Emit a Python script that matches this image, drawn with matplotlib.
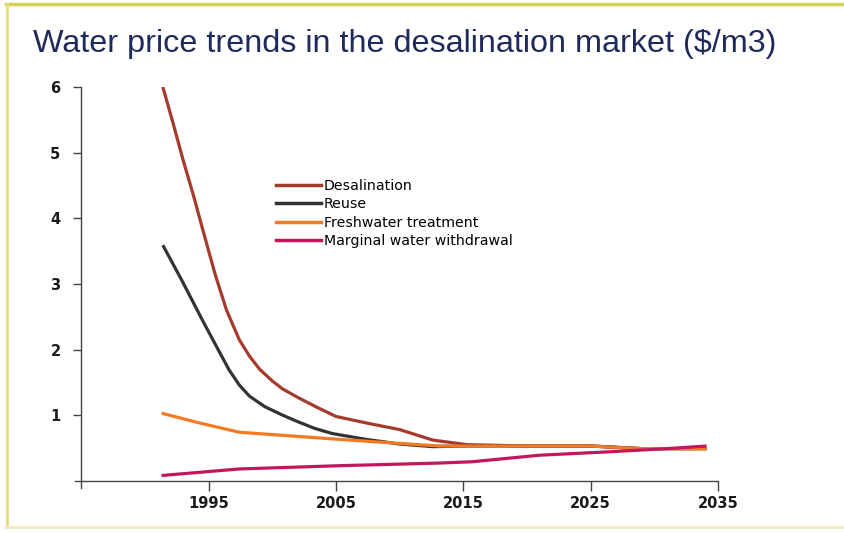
import matplotlib.pyplot as plt
from matplotlib.lines import Line2D

# values ($/m3)
desal_years = [1991.4, 1992.2, 1993.0, 1993.8, 1994.5, 1995.5, 1996.4, 1997.4, 1998.2, 1999.0, 2000.0, 2000.8, 2002.0, 2003.5, 2005.0, 2007.4, 2010.0, 2012.6, 2015.3, 2020, 2025, 2029, 2034.1]
desal_vals = [6.0, 5.45, 4.88, 4.35, 3.85, 3.15, 2.6, 2.15, 1.9, 1.7, 1.52, 1.4, 1.27, 1.12, 0.98, 0.88, 0.78, 0.62, 0.55, 0.53, 0.53, 0.49, 0.49]

reuse_years = [1991.4, 1992.9, 1994.5, 1995.6, 1996.6, 1997.4, 1998.2, 1999.4, 2000.8, 2002.0, 2003.3, 2004.7, 2007.4, 2010.0, 2012.6, 2015.3, 2020, 2025, 2029, 2034.1]
reuse_vals = [3.59, 3.05, 2.45, 2.05, 1.69, 1.46, 1.29, 1.13, 1.0, 0.9, 0.8, 0.72, 0.63, 0.56, 0.52, 0.53, 0.53, 0.53, 0.49, 0.49]

fresh_years = [1991.3, 1994.3, 1997.4, 2005.3, 2013.1, 2015.7, 2024.9, 2028.9, 2034.1]
fresh_vals = [1.03, 0.88, 0.74, 0.63, 0.53, 0.53, 0.53, 0.49, 0.49]

marg_years = [1991.3, 1997.4, 2005.3, 2013.1, 2015.7, 2021.0, 2026.3, 2031.0, 2034.1]
marg_vals = [0.08, 0.18, 0.23, 0.27, 0.29, 0.39, 0.44, 0.49, 0.53]

labels = ['Desalination', 'Reuse', 'Freshwater treatment', 'Marginal water withdrawal']
colors = ['#a53b2c', '#333333', '#f27a22', '#c2185b']

fig = plt.figure(figsize=(8.44, 5.33), dpi=100)
ax = fig.add_axes([75/844, (533-488)/533, (718-75)/844, (488-87)/533])

ax.plot(desal_years, desal_vals, color=colors[0], lw=2.3, solid_capstyle='butt')
ax.plot(reuse_years, reuse_vals, color=colors[1], lw=2.3, solid_capstyle='butt')
ax.plot(fresh_years, fresh_vals, color=colors[2], lw=2.3, solid_capstyle='butt')
ax.plot(marg_years, marg_vals, color=colors[3], lw=2.3, solid_capstyle='butt')

ax.set_xlim(1984.5, 2035)
ax.set_ylim(-0.11, 6)
ax.spines['left'].set_position(('data', 1985))
ax.spines['bottom'].set_position(('data', 0))
ax.spines['right'].set_visible(False)
ax.spines['top'].set_visible(False)
for s in ['left', 'bottom']:
    ax.spines[s].set_color('#444444')
    ax.spines[s].set_linewidth(1.0)

ax.set_xticks([1995, 2005, 2015, 2025, 2035])
ax.set_yticks([1, 2, 3, 4, 5, 6])
ax.tick_params(axis='y', length=6, width=1, color='#444444', pad=9)
ax.tick_params(axis='x', length=7, width=1, color='#444444', pad=4)
for lab in ax.get_xticklabels() + ax.get_yticklabels():
    lab.set_fontfamily('DejaVu Sans')
    lab.set_fontweight('bold')
    lab.set_fontsize(10.5)
    lab.set_color('#1a1a1a')

handles = [Line2D([], [], color=c, lw=2.5) for c in colors]
ax.legend(handles, labels, loc='upper left', bbox_to_anchor=((269-75)/(718-75), (488-172)/(488-87)),
          frameon=False, handlelength=3.2, handletextpad=0.15, labelspacing=0.3,
          borderpad=0, prop={'family': 'DejaVu Sans', 'size': 10.2})

fig.text(33/844, (533-52)/533, 'Water price trends in the desalination market ($/m3)',
         fontsize=23.3, color='#1f2a5c', family='Liberation Sans', va='baseline')

# slide border
fig.add_artist(Line2D([6/844, 1], [1-4/533, 1-4/533], color='#d6cf55', lw=2.5, transform=fig.transFigure))
fig.add_artist(Line2D([7/844, 7/844], [1-4/533, 6/533], color='#e5dd7a', lw=2, transform=fig.transFigure))
fig.add_artist(Line2D([6/844, 1], [6/533, 6/533], color='#f1ebbf', lw=2, transform=fig.transFigure))

plt.savefig('out.png', dpi=100)
